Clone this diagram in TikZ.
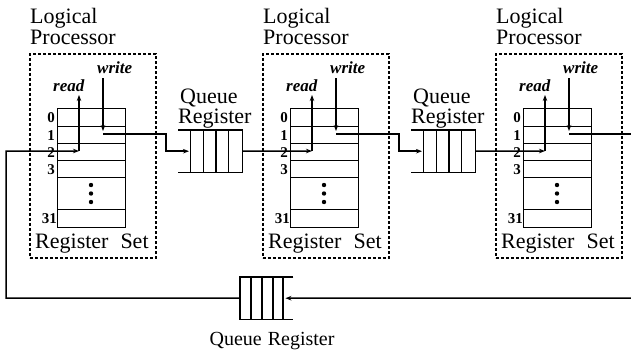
\documentclass[tikz,border=0pt]{standalone}
\usepackage{fontspec}
\setmainfont{Liberation Serif}
\usetikzlibrary{arrows.meta}
\begin{document}
\begin{tikzpicture}[x=1pt,y=-1pt,
  ln/.style={line width=1.5pt},
  arr/.style={ln,-{Stealth[length=6pt,width=4.5pt]}},
  dbox/.style={draw,line width=1.7pt,dash pattern=on 3pt off 2pt,inner sep=0pt,anchor=north west},
  reg/.style={draw,line width=1.3pt,minimum width=68pt,inner sep=0pt,anchor=north west},
  big/.style={font=\fontsize{22}{21}\selectfont,inner sep=0pt,anchor=base west},
  lbl/.style={font=\fontsize{15}{15}\selectfont\bfseries,inner sep=0pt,anchor=base east},
  rw/.style={font=\fontsize{17}{17}\selectfont\bfseries\itshape,inner sep=0pt,anchor=base west},
  qbox/.style={minimum height=42pt,inner sep=0pt,anchor=north west},
]
\useasboundingbox (0,0) rectangle (631,349);

\foreach \i/\dx in {1/0,2/233,3/466} {
  \node[dbox,minimum width=126pt,minimum height=204pt] (p\i) at (29+\dx,53) {};
  \node[big] (p\i-t1) at (30+\dx,23) {Logical};
  \node[big] (p\i-t2) at (30+\dx,44) {Processor};
  \node[reg,minimum height=18pt] (p\i-r0) at (57+\dx,108) {};
  \node[reg,minimum height=17pt] (p\i-r1) at (57+\dx,126) {};
  \node[reg,minimum height=17pt] (p\i-r2) at (57+\dx,143) {};
  \node[reg,minimum height=17pt] (p\i-r3) at (57+\dx,160) {};
  \node[reg,minimum height=32pt] (p\i-rd) at (57+\dx,177) {};
  \node[reg,minimum height=18pt] (p\i-r31) at (57+\dx,209) {};
  \node[lbl] (p\i-l0) at (55+\dx,122) {0};
  \node[lbl] (p\i-l1) at (55+\dx,140) {1};
  \node[lbl] (p\i-l2) at (55+\dx,157) {2};
  \node[lbl] (p\i-l3) at (55+\dx,174) {3};
  \node[lbl] (p\i-l31) at (57+\dx,223) {31};
  \fill (91+\dx,185) circle (2.2pt) (91+\dx,193.5) circle (2.2pt) (91+\dx,202) circle (2.2pt);
  \node[big] (p\i-rs) at (35+\dx,248) {Register\hspace{12pt}Set};
  \node[rw] (p\i-rt) at (53+\dx,91) {read};
  \node[rw] (p\i-wt) at (97+\dx,73) {write};
  \coordinate (p\i-rin) at (79+\dx,151);
  \coordinate (p\i-rup) at (79+\dx,95);
  \coordinate (p\i-wtop) at (103+\dx,78);
  \coordinate (p\i-win) at (103+\dx,131);
  \coordinate (p\i-wo) at (103+\dx,134);
  \coordinate (p\i-wk) at (166+\dx,134);
  \draw[arr] (p\i-rin) -- (p\i-rup);
  \draw[arr] (p\i-wtop) -- (p\i-win);
}

% top queue registers (open at left, closed at right)
\foreach \j/\qx in {1/178,2/411} {
  \node[qbox,minimum width=64pt] (q\j) at (\qx,130) {};
  \draw[ln] (q\j.north west) -- (q\j.north east) -- (q\j.south east) -- (q\j.south west);
  \foreach \b in {12.7,25.3,38,50.3}
    \draw[ln] ([xshift=\b pt]q\j.north west) -- ([xshift=\b pt]q\j.south west);
  \node[big] (q\j-t1) at (\qx+2,103) {Queue};
  \node[big] (q\j-t2) at (\qx,123) {Register};
}

% bottom queue register (closed at left, open at right)
\node[qbox,minimum width=53pt] (q3) at (240,277) {};
\draw[ln] (q3.north east) -- (q3.north west) -- (q3.south west) -- (q3.south east);
\foreach \b in {11,22,33,43}
  \draw[ln] ([xshift=\b pt]q3.north west) -- ([xshift=\b pt]q3.south west);
\node[font=\fontsize{20}{20}\selectfont,inner sep=0pt,anchor=base] (q3-t) at (272,345) {Queue\hspace{6pt}Register};

% connectors
\draw[arr] (p1-wo) -- (p1-wk) |- ([xshift=11pt]q1.west);
\draw[arr] (q1.east) -- (p2-rin);
\draw[arr] (p2-wo) -- (p2-wk) |- ([xshift=11pt]q2.west);
\draw[arr] (q2.east) -- (p3-rin);
\coordinate (out) at (631,134);
\draw[ln] (p3-wo) -- (out);
\coordinate (bin) at (631,298);
\draw[arr] (bin) -- ([xshift=-8pt]q3.east);
\coordinate (lc) at (6,298);
\draw[arr] (q3.west) -- (lc) |- (p1-rin);
\end{tikzpicture}
\end{document}
